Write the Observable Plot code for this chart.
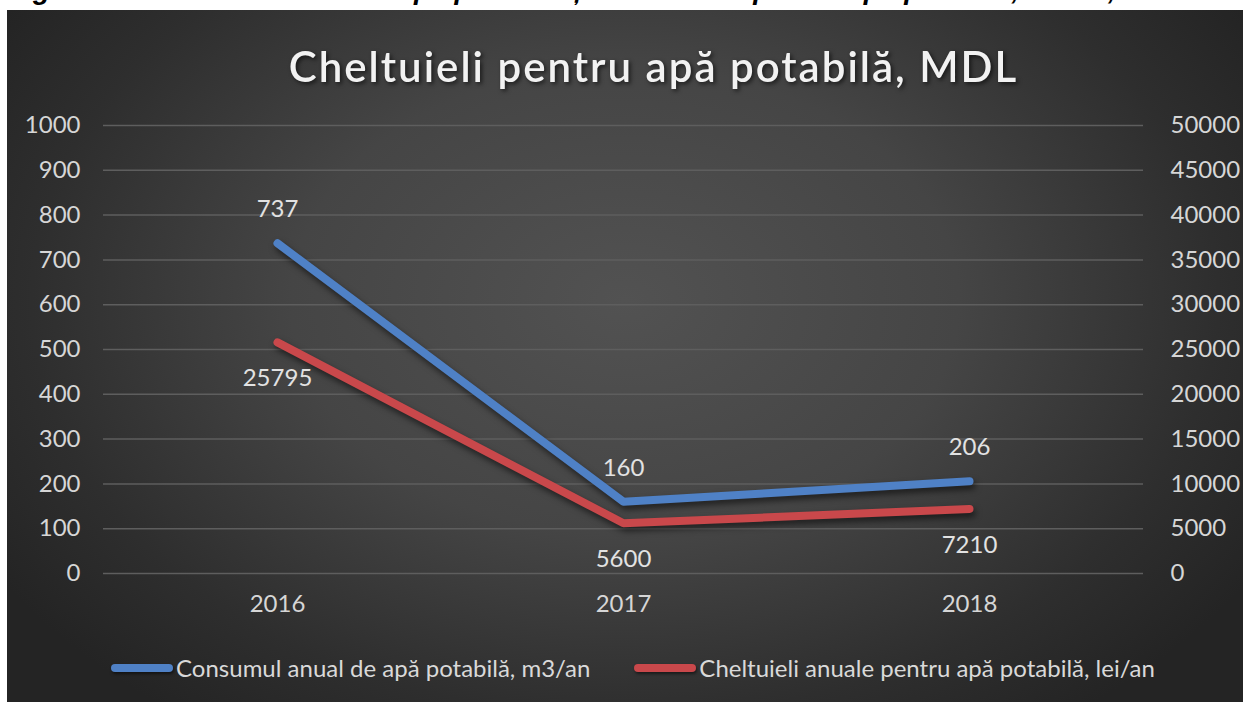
<!DOCTYPE html>
<html><head><meta charset="utf-8">
<script src="https://cdn.jsdelivr.net/npm/d3@7"></script>
<script src="https://cdn.jsdelivr.net/npm/@observablehq/plot@0.6"></script>
<style>
html,body{margin:0;padding:0;background:#fff;width:1243px;height:702px;overflow:hidden;position:relative;}
#cap{position:absolute;left:8px;top:-24px;font:italic bold 28px "Liberation Sans";line-height:28px;white-space:nowrap;color:#000;}
#panel{position:absolute;left:7px;top:10px;width:1236px;height:692px;}
#legend{position:absolute;left:0;top:643px;width:1236px;display:flex;justify-content:center;align-items:center;gap:44px;font-family:Lato;font-size:24px;color:#d9d9d9;padding-left:16px;box-sizing:border-box;}
.item{display:flex;align-items:center;}
.sw{display:inline-block;width:62px;height:8px;border-radius:4px;margin-right:3px;box-shadow:1px 2px 3px rgba(0,0,0,0.5);}
</style></head>
<body>
<div id="cap">Figura 3. Consumul anual de apă potabilă și cheltuielile pentru apă potabilă, m3/an, lei/an</div>
<div id="panel"></div>
<script>
const years = ["2016", "2017", "2018"];
const consum = [737, 160, 206];
const cheltuieli = [25795, 5600, 7210];
const leftTicks = [0, 100, 200, 300, 400, 500, 600, 700, 800, 900, 1000];
const rightTicks = [0, 5000, 10000, 15000, 20000, 25000, 30000, 35000, 40000, 45000, 50000];
const seriesNames = ["Consumul anual de apă potabilă, m3/an", "Cheltuieli anuale pentru apă potabilă, lei/an"];
const colors = ["#4f81c6", "#c9484b"];
const chartTitle = "Cheltuieli pentru apă potabilă, MDL";

const ratio = rightTicks[rightTicks.length - 1] / leftTicks[leftTicks.length - 1];
const blue = years.map((y, i) => ({year: y, v: consum[i], label: String(consum[i])}));
const red = years.map((y, i) => ({year: y, v: cheltuieli[i] / ratio, label: String(cheltuieli[i])}));

const chart = Plot.plot({
  width: 1236, height: 692,
  marginLeft: 96, marginRight: 100, marginTop: 115, marginBottom: 129,
  style: {
    background: "radial-gradient(ellipse 60% 75% at 50% 42%, #525252 0%, #454545 45%, #2e2e2e 80%, #242424 100%)",
    color: "#d9d9d9", fontFamily: "Lato", fontSize: "24px", overflow: "visible"
  },
  x: {type: "point", domain: years, padding: 0.5},
  y: {domain: [0, 1000]},
  marks: [
    Plot.gridY(leftTicks, {stroke: "#5e5e5e", strokeOpacity: 1, strokeWidth: 1.5}),
    Plot.axisY({ticks: leftTicks, anchor: "left", tickSize: 0, tickPadding: 23, label: null, fill: "#d6d6d6",
      fontSize: 24, tickFormat: (d) => String(d)}),
    Plot.axisY({ticks: leftTicks, anchor: "right", tickSize: 0, tickPadding: 27, label: null, fill: "#d6d6d6",
      fontSize: 24, tickFormat: (d) => String(rightTicks[leftTicks.indexOf(d)])}),
    Plot.axisX({tickSize: 0, tickPadding: 21, label: null, fill: "#d6d6d6", fontSize: 24}),
    Plot.line(red, {x: "year", y: "v", stroke: colors[1], strokeWidth: 8, strokeLinecap: "round", strokeLinejoin: "round"}),
    Plot.line(blue, {x: "year", y: "v", stroke: colors[0], strokeWidth: 8, strokeLinecap: "round", strokeLinejoin: "round"}),
    Plot.text(blue, {x: "year", y: "v", text: "label", dy: -34, fill: "#e2e2e2", fontSize: 24}),
    Plot.text(red, {x: "year", y: "v", text: "label", dy: 36, fill: "#e2e2e2", fontSize: 24}),
    Plot.text([chartTitle], {frameAnchor: "top", dx: 30, dy: -57, lineAnchor: "middle", fill: "#f2f2f2",
      fontSize: 42, fontWeight: 600, fontFamily: "Lato"})
  ]
});
document.getElementById("panel").appendChild(chart);
d3.select(chart).selectAll('g[aria-label="line"] path').style("filter", "drop-shadow(2px 4px 3px rgba(0,0,0,0.55))");
d3.select(chart).selectAll("text").filter(function(){return this.textContent === chartTitle;})
  .attr("letter-spacing", "2px").style("filter", "drop-shadow(2px 2px 2px rgba(0,0,0,0.6))");

const legend = d3.select("#panel").append("div").attr("id", "legend");
seriesNames.forEach((n, i) => {
  const it = legend.append("div").attr("class", "item");
  it.append("span").attr("class", "sw").style("background", colors[i]);
  it.append("span").text(n);
});
</script>
</body></html>
